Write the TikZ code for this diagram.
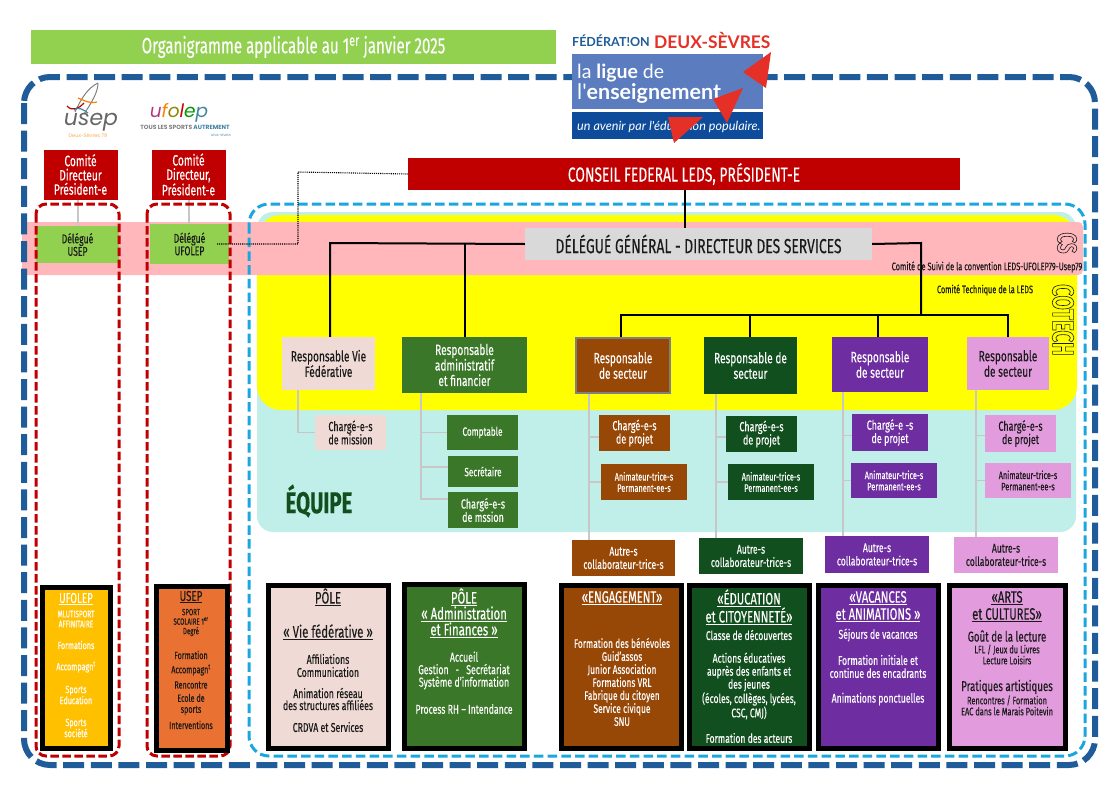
\documentclass[tikz,border=0pt]{standalone}
\usepackage{fontspec}
\setmainfont[FakeStretch=0.68,FakeBold=0.2]{Fira Sans}
\newfontfamily\outfont[FakeStretch=0.68]{Fira Sans}
\newfontfamily\logofont{Lato}
\newfontfamily\ufofont{Poppins}
\definecolor{dkblue}{HTML}{1F5C99}
\definecolor{ltblue}{HTML}{1AA7E0}
\definecolor{rouge}{HTML}{C00000}
\definecolor{vclair}{HTML}{92D050}
\definecolor{rosea}{HTML}{FFB7BB}
\definecolor{teal}{HTML}{BFEFE8}
\definecolor{jaune}{HTML}{FFFF00}
\definecolor{chair}{HTML}{EFDAD5}
\definecolor{vert}{HTML}{3A7728}
\definecolor{brun}{HTML}{974706}
\definecolor{sapin}{HTML}{124F1E}
\definecolor{violet}{HTML}{6E2DA0}
\definecolor{mauve}{HTML}{E29CDD}
\definecolor{encre}{HTML}{1A1A1A}
\definecolor{ligueclair}{HTML}{5B7DBF}
\definecolor{liguefonce}{HTML}{0E4C9B}
\definecolor{liguerouge}{HTML}{E53027}
\definecolor{ambre}{HTML}{FFC000}
\definecolor{corail}{HTML}{E97132}
\newcounter{txc}
\newcommand\szf[2]{\pgfmathsetmacro\fsz{#1*1.2}\fontsize{\fsz}{#2}\selectfont}
\newcommand\nbx[9][]{%
  \pgfmathsetmacro\bxw{#5-#3}\pgfmathsetmacro\bxh{#6-#4}%
  \node[boite,#1,minimum width=\bxw pt,minimum height=\bxh pt,fill=#7,text=#8] (#2) at ({(#3+#5)/2},{(#4+#6)/2}) {#9};}
\newcommand\tx[6]{\stepcounter{txc}\node[inner sep=0,align=center,text=#5,font=\szf{#3}{#4}] (t\thetxc) at (#1,#2) {#6};}
\newcommand\outl[2]{\special{pdf:code #1 Tr 0.6 w}#2\special{pdf:code 0 Tr}}
\newcommand\uu[1]{\underline{#1}}
\tikzset{
  boite/.style={draw=none,inner sep=0,align=center},
  resp/.style={font=\szf{12.4}{15.5}},
  comite/.style={font=\szf{12.5}{14.3}},
  deleg/.style={font=\szf{10.6}{12.5}},
  charge/.style={font=\szf{11}{13.3}},
  petit/.style={font=\szf{10}{13}},
  anim/.style={font=\szf{9}{11.3}},
  autre/.style={font=\szf{10.5}{13.3}},
  tronc/.style={draw=black,line width=2pt},
  gris/.style={draw=black!22,line width=1.5pt},
  pole/.style={draw=black,line width=5pt},
  bleu/.style={draw=dkblue,line width=6pt,rounded corners=26pt,dash pattern=on 21pt off 6.6pt},
  ciel/.style={draw=ltblue,line width=3pt,rounded corners=20pt,dash pattern=on 9.5pt off 4.2pt},
  rougep/.style={draw=rouge,line width=3pt,rounded corners=10pt,dash pattern=on 8.5pt off 3.5pt},
  tri/.style={fill=liguerouge,draw=none},
}
\begin{document}
\begin{tikzpicture}[x=1pt,y=-1pt]
\useasboundingbox (0,0) rectangle (1117,790);
\fill[white] (0,0) rectangle (1117,790);
% title
\nbx{titre}{31}{30}{556}{64}{vclair}{white}{\szf{18.5}{20}Organigramme applicable au 1\textsuperscript{er} janvier 2025}
% bands
\fill[teal,rounded corners=16pt] (257,212) rectangle (1076,532);
\fill[jaune,rounded corners=24pt] (257,215) rectangle (1077,410);
\fill[rosea,rounded corners=5pt] (22,222) rectangle (1083,275);
\draw[bleu] (24,77) rectangle (1095,765);
\draw[ciel] (249,204) rectangle (1085,756);
% Comites
\nbx[comite,draw=white,line width=.5pt]{cdu}{43}{149}{118}{200}{rouge}{white}{Comité\\Directeur\\Président-e}
\nbx[comite,draw=white,line width=.5pt]{cdf}{151}{149}{226}{200}{rouge}{white}{Comité\\Directeur,\\Président-e}
\nbx[deleg]{du}{36}{226}{119}{263}{vclair}{encre}{Délégué\\USEP}
\nbx[deleg]{df}{150}{224}{229}{264}{vclair}{encre}{Délégué\\UFOLEP}
\draw[gris] (cdu.south west) ++(35,0) -- ++(0,26) coordinate (gu);
\draw[gris] (cdf.south west) ++(38,0) -- ++(0,24) coordinate (gf);
\draw[rougep] (36,204) rectangle (119,756);
\draw[rougep] (147,204) rectangle (230,756);
% top
\nbx{cf}{408}{158}{960}{190}{rouge}{white}{\szf{17}{19}CONSEIL FEDERAL LEDS, PRÉSIDENT-E}
\nbx{dg}{525}{228}{872}{260}{black!15}{encre}{\szf{17}{19}DÉLÉGUÉ GÉNÉRAL - DIRECTEUR DES SERVICES}
% dotted link
\coordinate (ds) at (217,244);
\coordinate (dm) at (298,172);
\draw[black,line width=1.1pt,densely dotted] (ds) -| (dm) -- (cf.west);
% responsables
\nbx[resp]{rv}{282}{337}{375}{390}{chair}{encre}{Responsable Vie\\Fédérative}
\nbx[resp]{ra}{402}{337}{527}{393}{vert}{white}{Responsable\\administratif\\et financier}
\nbx[resp,draw=black!50,line width=2.5pt]{rb}{576}{338}{670}{393}{brun}{white}{Responsable\\de secteur}
\nbx[resp]{rs}{704}{337}{797}{394}{sapin}{white}{Responsable de\\secteur}
\nbx[resp]{rp}{832}{337}{928}{392}{violet}{white}{Responsable\\de secteur}
\nbx[resp]{rm}{967}{337}{1049}{390}{mauve}{encre}{Responsable\\de secteur}
% black tree
\coordinate (hl) at (330,243);
\coordinate (hm) at (465,243);
\coordinate (hr) at (921,243);
\coordinate (h0) at (921,315);
\coordinate (ha) at (621,315);
\coordinate (hb) at (750,315);
\coordinate (hc) at (878,315);
\coordinate (hd) at (1008,315);
\draw[tronc] (cf.south -| 685,0) -- (dg.north -| 685,0);
\draw[tronc] (dg.west) -- (hl) -- (hl |- rv.north);
\draw[tronc] (hm) -- (hm |- ra.north);
\draw[tronc] (dg.east) -- (hr) -- (h0);
\draw[tronc] (ha |- rb.north) -- (ha) -- (hd) -- (hd |- rm.north);
\draw[tronc] (hb) -- (hb |- rs.north);
\draw[tronc] (hc) -- (hc |- rp.north);
% teams
\nbx[charge]{c1}{315}{415}{386}{450}{chair}{encre}{Chargé-e-s\\de mission}
\nbx[petit]{c2}{447}{415}{518}{450}{vert}{white}{Comptable}
\nbx[petit]{c3}{448}{456}{518}{487}{vert}{white}{Secrétaire}
\nbx[charge]{c4}{448}{492}{518}{528}{vert}{white}{Chargé-e-s\\de mssion}
\nbx[charge]{b1}{599}{415}{670}{451}{brun}{white}{Chargé-e-s\\de projet}
\nbx[anim]{b2}{601}{464}{687}{500}{brun}{white}{Animateur-trice-s\\Permanent-ee-s}
\nbx[autre]{b3}{572}{540}{675}{576}{brun}{white}{Autre-s\\collaborateur-trice-s}
\nbx[charge]{s1}{726}{416}{797}{452}{sapin}{white}{Chargé-e-s\\de projet}
\nbx[anim]{s2}{728}{464}{814}{500}{sapin}{white}{Animateur-trice-s\\Permanent-ee-s}
\nbx[autre]{s3}{699}{538}{803}{574}{sapin}{white}{Autre-s\\collaborateur-trice-s}
\nbx[charge]{p1}{852}{414}{928}{451}{violet}{white}{Chargé-e -s\\de projet}
\nbx[anim]{p2}{851}{463}{937}{498}{violet}{white}{Animateur-trice-s\\Permanent-ee-s}
\nbx[autre]{p3}{825}{536}{929}{573}{violet}{white}{Autre-s\\collaborateur-trice-s}
\nbx[charge]{m1}{985}{415}{1056}{452}{mauve}{encre}{Chargé-e-s\\de projet}
\nbx[anim]{m2}{985}{463}{1071}{498}{mauve}{encre}{Animateur-trice-s\\Permanent-ee-s}
\nbx[autre]{m3}{954}{537}{1058}{573}{mauve}{encre}{Autre-s\\collaborateur-trice-s}
% grey tree
\coordinate (g1) at (298,390);
\coordinate (g2) at (421,393);
\coordinate (g3) at (589,394);
\coordinate (g4) at (716,394);
\coordinate (g5) at (843,392);
\coordinate (g6) at (976,390);
\draw[gris] (g1) |- (c1.west);
\draw[gris] (g2) |- ([yshift=11pt]c4.west);
\draw[gris] (g2 |- c2.west) -- (c2.west);
\draw[gris] (g2 |- c3.north) ++(0,11) -- ++(27,0);
\draw[gris] (g3) -- (g3 |- b3.north);
\draw[gris] (g3 |- b1.west) ++(0,4) -- ++(10,0);
\draw[gris] (g3 |- b2.west) -- (b2.west);
\draw[gris] (g4) -- (g4 |- s3.north);
\draw[gris] (g4 |- s1.west) ++(0,3) -- ++(10,0);
\draw[gris] (g4 |- s2.west) -- (s2.west);
\draw[gris] (g5) -- (g5 |- p3.north);
\draw[gris] (g5 |- p1.west) ++(0,3) -- ++(9,0);
\draw[gris] (g5 |- p2.west) -- (p2.west);
\draw[gris] (g6) -- (g6 |- m3.north);
\draw[gris] (g6 |- m1.west) ++(0,2) -- ++(9,0);
\draw[gris] (g6 |- m2.west) -- (m2.west);
% side labels
\node[inner sep=0,rotate=-90,text=encre,font=\outfont\bfseries\fontsize{27}{28}\selectfont] (lcs) at (1067,243) {\outl{1}{CS}};
\node[inner sep=0,rotate=-90,text=encre,font=\outfont\bfseries\fontsize{30}{30}\selectfont] (lcot) at (1063,320) {\outl{1}{COTECH}};
\tx{987}{267}{9.1}{12}{encre}{Comité de Suivi de la convention LEDS-UFOLEP79-Usep79}
\tx{985}{290}{9}{12}{encre}{Comité Technique de la LEDS}
\node[inner sep=0,text=sapin,font=\szf{25}{30}\bfseries] (eq) at (319,501) {ÉQUIPE};
% poles
\nbx[pole]{pu}{42}{587}{110}{748}{ambre}{white}{}
\nbx[pole]{ps}{156}{586}{227}{750}{corail}{white}{}
\nbx[pole]{pa}{268.5}{585.5}{388.5}{748.5}{chair}{white}{}
\nbx[pole]{pb}{404.5}{584.5}{524.5}{748.5}{vert}{white}{}
\nbx[pole]{pc}{561.5}{585.5}{681.5}{748.5}{brun}{white}{}
\nbx[pole]{pd}{689.5}{585.5}{809.5}{748.5}{sapin}{white}{}
\nbx[pole]{pe}{818.5}{585.5}{938.5}{748.5}{violet}{white}{}
\nbx[pole]{pf}{949.5}{585.5}{1065.5}{748.5}{mauve}{white}{}
% pole texts
\tx{76}{599}{12}{17}{white}{\uu{UFOLEP}}
\tx{76}{619}{8}{10}{white}{MLUTISPORT\\AFFINITAIRE}
\tx{76}{645}{8.8}{13}{white}{Formations}
\tx{76}{667}{8.8}{13}{white}{Accompagn\textsuperscript{t}}
\tx{76}{695}{8.8}{11}{white}{Sports\\Education}
\tx{76}{728}{8.8}{11}{white}{Sports\\société}
\tx{191}{597}{12}{17}{encre}{\uu{USEP}}
\tx{191}{622.5}{7.5}{9.5}{encre}{SPORT\\SCOLAIRE 1\textsuperscript{er}\\Degré}
\tx{191}{655}{8.8}{13}{encre}{Formation}
\tx{191}{670}{8.8}{13}{encre}{Accompagn\textsuperscript{t}}
\tx{191}{685}{8.8}{13}{encre}{Rencontre}
\tx{191}{704.5}{8.8}{11}{encre}{Ecole de\\sports}
\tx{191}{725}{8.8}{13}{encre}{Interventions}
\tx{328}{597}{13.9}{18}{encre}{\uu{PÔLE}}
\tx{328}{632}{13.9}{18}{encre}{\uu{« Vie fédérative »}}
\tx{328}{665.5}{10.7}{13}{encre}{Affiliations\\Communication}
\tx{328}{699}{10.7}{12}{encre}{Animation réseau\\des structures affiliées}
\tx{328}{727}{10.7}{13}{encre}{CRDVA et Services}
\tx{464}{597}{13.9}{18}{white}{\uu{PÔLE}}
\tx{464}{614}{13.9}{18}{white}{\uu{« Administration}}
\tx{464}{630}{13.9}{18}{white}{\uu{et Finances »}}
\tx{464}{670.5}{10.8}{12.5}{white}{Accueil\\Gestion ~ - ~ Secrétariat\\Système d'information}
\tx{464}{709}{10.7}{13}{white}{Process RH – Intendance}
\tx{622}{598}{13.7}{18}{white}{\uu{«ENGAGEMENT»}}
\tx{622}{682}{10.3}{13}{white}{Formation des bénévoles\\Guid'assos\\Junior Association\\Formations VRL\\Fabrique du citoyen\\Service civique\\SNU}
\tx{749}{598}{13.7}{18}{white}{\uu{«ÉDUCATION}}
\tx{749}{616}{13.7}{18}{white}{\uu{et CITOYENNETÉ»}}
\tx{749}{635}{10.5}{13}{white}{Classe de découvertes}
\tx{749}{686}{10.5}{13}{white}{Actions éducatives\\auprès des enfants et\\des jeunes\\(écoles, collèges, lycées,\\CSC, CMJ)}
\tx{749}{738}{10.5}{13}{white}{Formation des acteurs}
\tx{878}{598}{13.7}{18}{white}{\uu{«VACANCES}}
\tx{878}{615}{13.7}{18}{white}{\uu{et ANIMATIONS »}}
\tx{878}{635}{10.6}{13}{white}{Séjours de vacances}
\tx{878}{666.5}{10.6}{13}{white}{Formation initiale et\\continue des encadrants}
\tx{878}{699}{10.6}{13}{white}{Animations ponctuelles}
\tx{1007}{598}{13.7}{18}{encre}{\uu{«ARTS}}
\tx{1007}{615}{13.7}{18}{encre}{\uu{et CULTURES»}}
\tx{1007}{636}{11.9}{15}{encre}{Goût de la lecture}
\tx{1007}{654.5}{9.1}{11}{encre}{LFL / Jeux du Livres\\Lecture Loisirs}
\tx{1007}{687}{11.9}{15}{encre}{Pratiques artistiques}
\tx{1007}{705.5}{9.1}{11}{encre}{Rencontres / Formation\\EAC dans le Marais Poitevin}
% Ligue logo
\fill[ligueclair] (572,54) rectangle (763,109);
\fill[liguefonce] (572,112) rectangle (763,139);
\node[inner sep=0,anchor=west,font=\logofont\bfseries\fontsize{12.5}{13}\selectfont,text=dkblue] (lf) at (572,41) {FÉDÉRAT!ON};
\node[inner sep=0,anchor=west,font=\logofont\bfseries\fontsize{17.4}{18}\selectfont,text=liguerouge] (ld) at (654,40) {DEUX-SÈVRES};
\node[inner sep=0,anchor=west,font=\logofont\fontsize{19.5}{22}\selectfont,text=white] (ll) at (577,73) {la \textbf{ligue} de};
\node[inner sep=0,anchor=west,font=\logofont\fontsize{21.5}{22}\selectfont,text=white] (le) at (577,93) {l'\textbf{enseignement}};
\node[inner sep=0,anchor=west,font=\logofont\itshape\fontsize{12.6}{14}\selectfont,text=white] (lu) at (577,127) {un avenir par l'éducation populaire.};
\fill[tri] (771,52) -- (743,72) -- (766,88) -- cycle;
\fill[tri] (743,88) -- (713,99) -- (727,123) -- cycle;
\fill[tri] (668,117) -- (703,117) -- (674,143) -- cycle;
% USEP logo
\draw[black!50,line width=1pt] (98,83) .. controls (88,88) and (82,97) .. (75,112);
\draw[black!50,line width=1pt] (98,83) .. controls (98,92) and (92,102) .. (84,114);
\draw[red!75!black,line width=1.2pt] (67,106) .. controls (72,112) and (80,108) .. (84,103);
\draw[orange,line width=1.2pt] (78,98) .. controls (84,100) and (88,104) .. (97,102);
\draw[cyan!60!black,line width=1.2pt] (74,110) .. controls (78,106) and (84,110) .. (88,113);
\node[inner sep=0,font=\ufofont\itshape\fontsize{22}{22}\selectfont,text=black!60] (lus) at (91,122) {usep};
\node[inner sep=0,font=\ufofont\fontsize{5}{5}\selectfont,text=orange!70!white] (lud) at (88,136) {Deux-Sèvres 79};
% Ufolep logo
\node[inner sep=0,font=\ufofont\itshape\fontsize{18.5}{20}\selectfont] (luf) at (179,113) {\textcolor{magenta!70!black}{u}\textcolor{orange}{f}\textcolor{olive}{o}\textcolor{red!80!black}{l}\textcolor{green!60!black}{e}\textcolor{cyan!60!black}{p}};
\node[inner sep=0,font=\ufofont\bfseries\fontsize{6}{6}\selectfont,text=black!50] (lut) at (185,127) {TOUS LES SPORTS \textcolor{cyan!60!black}{AUTREMENT}};
\node[inner sep=0,font=\ufofont\fontsize{3}{3}\selectfont,text=cyan!60!black] (luu) at (221,135) {DEUX-SÈVRES};
\end{tikzpicture}
\end{document}
